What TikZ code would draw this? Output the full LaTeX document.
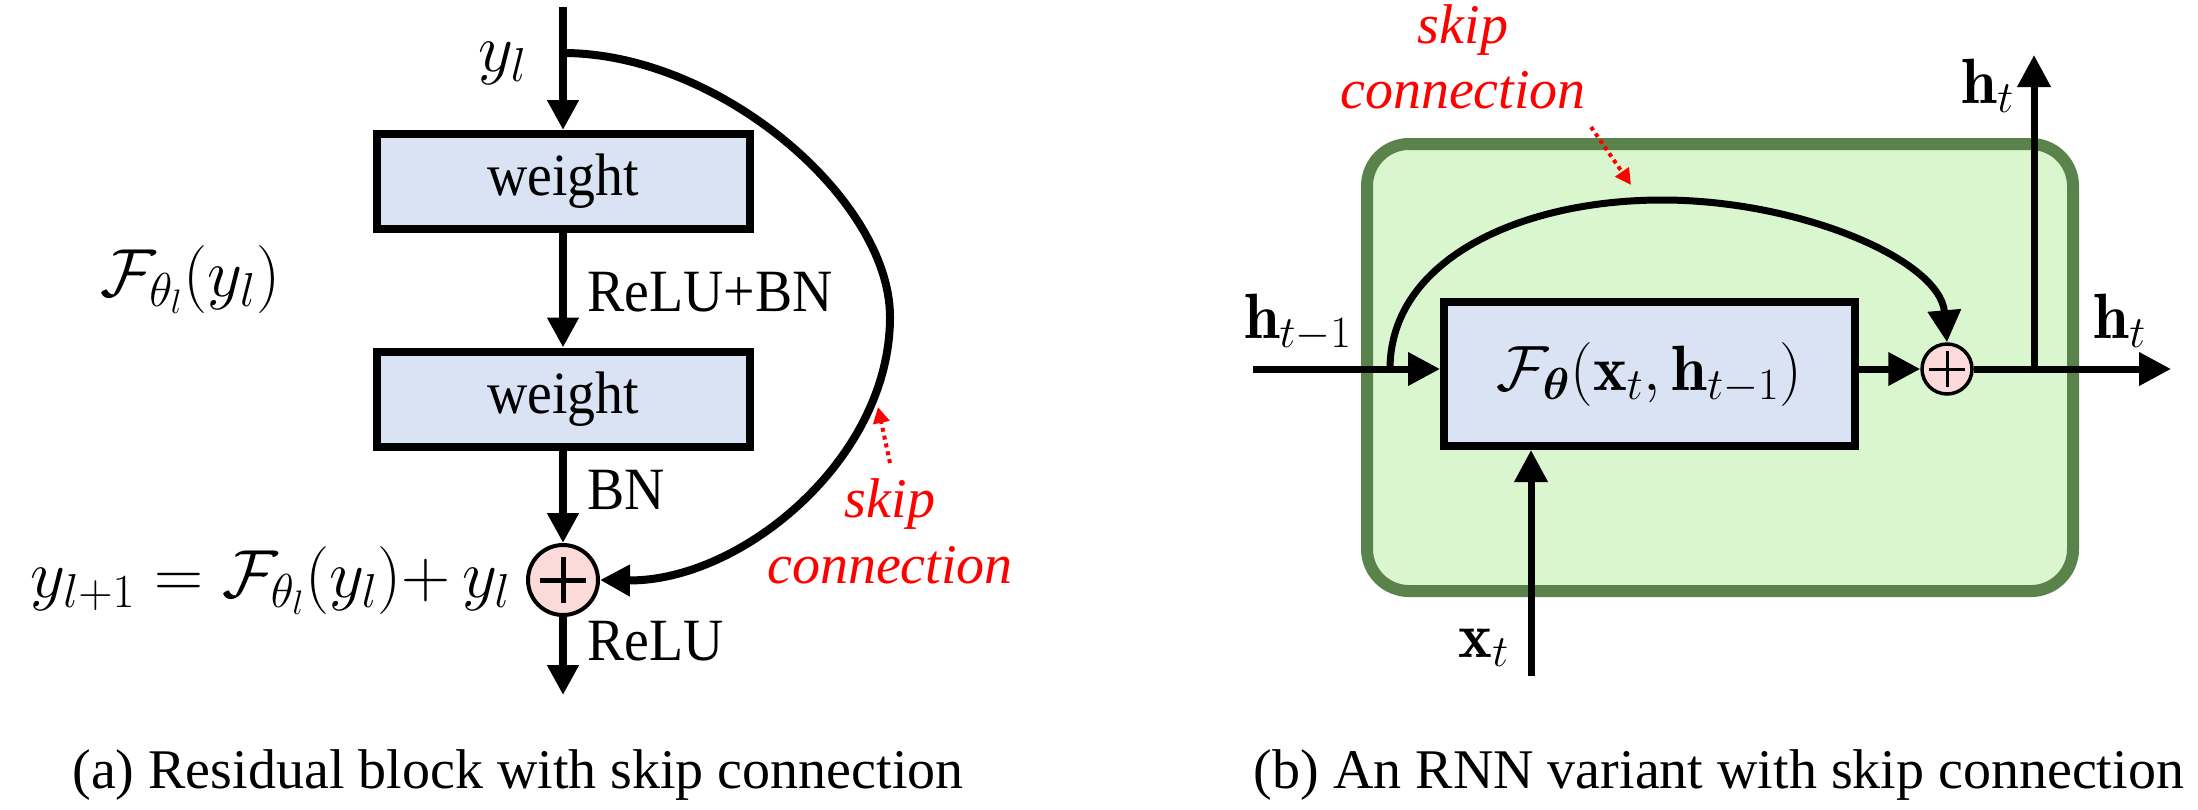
\RequirePackage{fix-cm}
\documentclass[tikz,border=0pt]{standalone}
\usepackage{amsmath}
\usepackage{bm}
\usepackage{fontspec}
\newfontfamily\cam[FakeStretch=0.93]{Liberation Serif}
\newfontfamily\tnr{Liberation Serif}
\usetikzlibrary{arrows.meta}
\definecolor{boxblue}{RGB}{218,227,243}
\definecolor{gfill}{RGB}{217,246,207}
\definecolor{gborder}{RGB}{90,130,75}
\definecolor{sumpink}{RGB}{253,218,218}
\tikzset{
  arrL/.style={line width=4pt, -{Triangle[length=15pt,width=15pt]}},
  arrR/.style={line width=3.5pt, -{Triangle[length=16pt,width=16pt]}},
  reddot/.style={red, line width=2pt, dash pattern=on 2pt off 2pt, -{Triangle[length=8pt,width=8pt]}},
  wbox/.style={draw, line width=4pt, fill=boxblue, minimum width=186.5pt, minimum height=47.5pt, inner sep=0pt, font=\cam\fontsize{30}{36}\selectfont},
  fbox/.style={draw, line width=4pt, fill=boxblue, minimum width=205.5pt, minimum height=72pt, inner sep=0pt, font=\fontsize{32}{38}\selectfont},
  sumnode/.style={circle, draw, fill=sumpink, inner sep=0pt},
  lbl/.style={inner sep=0pt, font=\cam\fontsize{30}{36}\selectfont},
  mth/.style={inner sep=0pt, font=\fontsize{32}{38}\selectfont},
  mthL/.style={inner sep=0pt, font=\fontsize{34}{40}\selectfont},
  redlbl/.style={inner sep=0pt, text=red, font=\tnr\itshape\fontsize{28}{34}\selectfont},
  captxt/.style={inner sep=0pt, font=\tnr\fontsize{28}{34}\selectfont},
}
\begin{document}
\begin{tikzpicture}[x=0.5pt,y=-0.5pt]
\useasboundingbox (0,0) rectangle (2198,809);
\fill[white] (0,0) rectangle (2198,809);

% ---------------- (a) residual block ----------------
\node[wbox] (w1) at (563,181.5) {weight};
\node[wbox] (w2) at (563,399) {weight};
\node[sumnode, line width=2pt, minimum size=35pt] (s1) at (563,580) {};
\draw[line width=2.5pt] (s1.center) ++(-23,0) -- ++(46,0);
\draw[line width=2.5pt] (s1.center) ++(0,-23) -- ++(0,46);
\coordinate (top) at (563,7);
\coordinate (bot) at (563,695);
\coordinate (sks) at (563,53);
\draw[arrL] (top) -- (w1.north);
\draw[arrL] (w1.south) -- (w2.north);
\draw[arrL] (w2.south) -- (s1.north);
\draw[arrL] (s1.south) -- (bot);
\draw[arrL] (sks) .. controls (720,53) and (890,200) .. (890,317)
  .. controls (890,460) and (740,582) .. (s1.east);
\coordinate (rl1) at (890,463);
\coordinate (rl2) at (878,407);
\draw[reddot] (rl1) -- (rl2);

\node[mthL, anchor=base west] (yl) at (478,71) {$y_l$};
\node[mthL, anchor=base west] (Fl) at (100,296) {$\mathcal{F}_{\theta_l}(y_l)$};
\node[lbl, anchor=west] (rb) at (587,292) {ReLU+BN};
\node[lbl, anchor=west] (bn) at (587,490) {BN};
\node[lbl, anchor=west] (re) at (587,641) {ReLU};
\node[mthL, anchor=base east] (eq) at (511,597) {$y_{l+1} = \mathcal{F}_{\theta_l}(y_l)\mathord{+}\,y_l$};
\node[redlbl, anchor=base] (sk1) at (890,517) {skip};
\node[redlbl, anchor=base] (cn1) at (890,583) {connection};
\node[captxt, anchor=base] (capa) at (518,788) {(a) Residual block with skip connection};

% ---------------- (b) RNN variant ----------------
\node[draw=gborder, fill=gfill, line width=6pt, rounded corners=21pt,
      minimum width=353pt, minimum height=223.5pt, inner sep=0pt] (g) at (1720,367.5) {};
\node[fbox] (f) at (1649.5,374) {$\mathcal{F}_{\bm{\theta}}(\mathbf{x}_t,\mathbf{h}_{t-1})$};
\node[sumnode, line width=1.75pt, minimum size=25pt] (s2) at (1947,369) {};
\draw[line width=1.5pt] (s2.center) ++(-18,0) -- ++(36,0);
\draw[line width=1.5pt] (s2.center) ++(0,-18) -- ++(0,36);
\coordinate (hin) at (1253,369);
\coordinate (sk) at (1390,369);
\coordinate (junc) at (2034,369);
\coordinate (hup) at (2034,55);
\coordinate (hout) at (2171,369);
\coordinate (xin) at (1531,676);
\draw[arrR] (hin) -- (hin -| f.west);
\draw[arrR] (f.east |- s2) -- (s2.west);
\draw[arrR] (s2.east) -- (hout);
\draw[arrR] (junc) -- (hup);
\draw[arrR] (xin) -- (xin |- f.south);
\draw[arrR] (sk) .. controls (1390,260) and (1520,200) .. (1662,200)
  .. controls (1800,200) and (1940,260) .. (s2.north);
\coordinate (rr1) at (1591,127);
\coordinate (rr2) at (1631,185);
\draw[reddot] (rr1) -- (rr2);

\node[mth, anchor=base] (hm1) at (1298,338) {$\mathbf{h}_{t-1}$};
\node[mth, anchor=base] (ht1) at (1988,103) {$\mathbf{h}_t$};
\node[mth, anchor=base] (ht2) at (2120,338) {$\mathbf{h}_t$};
\node[mth, anchor=base] (xt) at (1484,657) {$\mathbf{x}_t$};
\node[redlbl, anchor=base] (sk2) at (1463,43) {skip};
\node[redlbl, anchor=base] (cn2) at (1463,108) {connection};
\node[captxt, anchor=base] (capb) at (1719,788) {(b) An RNN variant with skip connection};
\end{tikzpicture}
\end{document}
